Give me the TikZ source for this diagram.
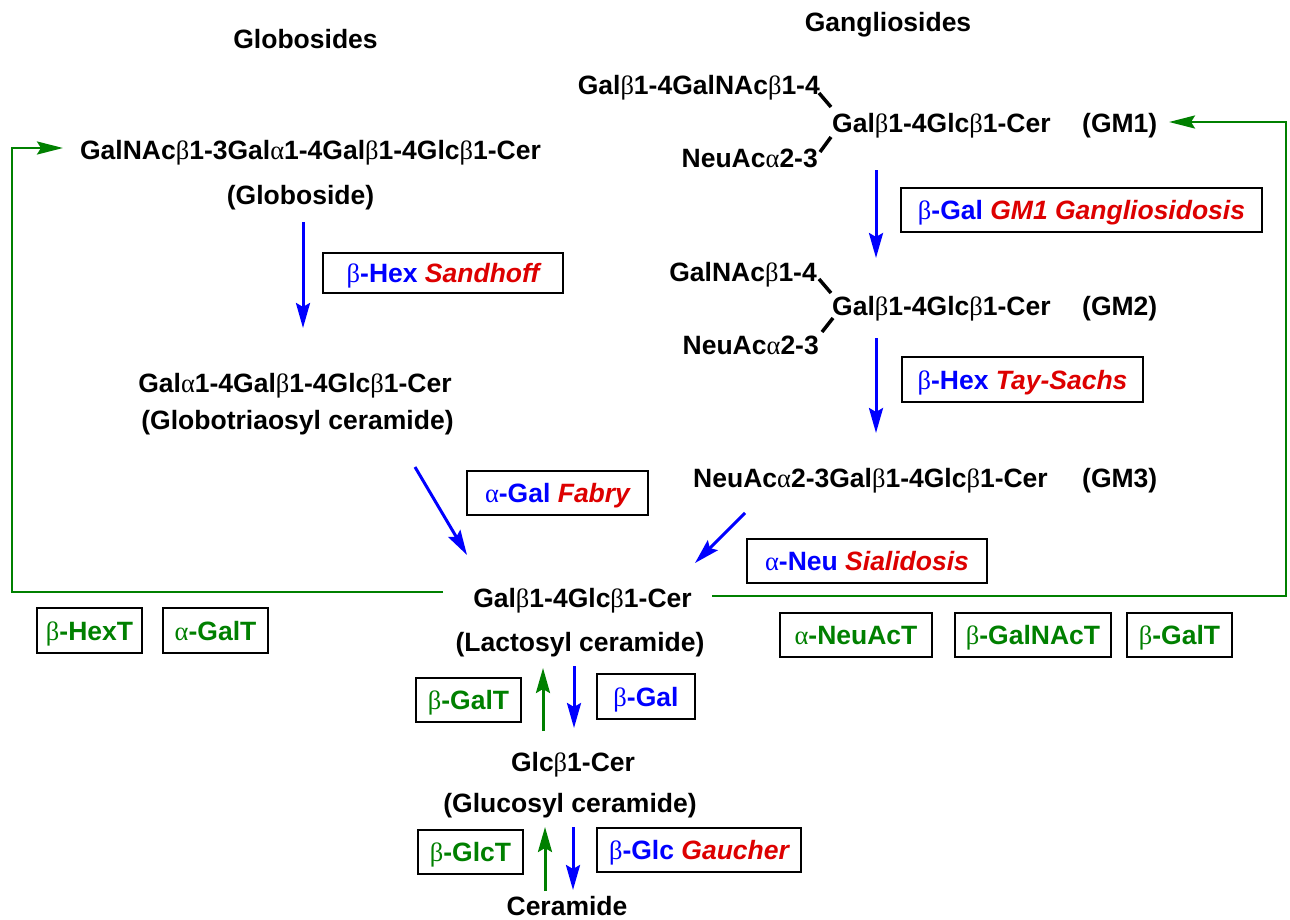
\documentclass[tikz,border=0pt]{standalone}
\usepackage{fontspec}
\setmainfont{Liberation Sans}
\newfontfamily\grkfont{Liberation Serif}
\usetikzlibrary{arrows.meta}
\definecolor{eblue}{RGB}{0,0,255}
\definecolor{ered}{RGB}{221,0,0}
\definecolor{egreen}{RGB}{0,128,0}
\newcommand\Bt{{\grkfont\mdseries β}}
\newcommand\Al{{\grkfont\mdseries α}}
\newcommand\Enz[1]{\textcolor{eblue}{#1}}
\newcommand\Dis[1]{\textcolor{ered}{\itshape #1}}
\tikzset{
  txt/.style={font=\fontsize{26.5}{30}\selectfont\bfseries, inner sep=0pt, text height=19pt, text depth=0pt},
  ebox/.style={txt, draw=black, line width=2pt},
  gtxt/.style={text=egreen},
  barrow/.style={draw=eblue, line width=3pt, -{Stealth[length=25pt,width=14pt,inset=4pt]}},
  garrow/.style={draw=egreen, line width=3pt, -{Stealth[length=25pt,width=14pt,inset=4pt]}},
  gline/.style={draw=egreen, line width=2.5pt, -{Stealth[length=26pt,width=13pt,inset=4pt]}},
  bond/.style={draw=black, line width=3.5pt},
}
\begin{document}
\begin{tikzpicture}[x=1pt,y=-1pt]
\useasboundingbox[fill=white] (0,0) rectangle (1290,919);

% titles
\node[txt] (tGlobo) at (305.5,39) {Globosides};
\node[txt] (tGang) at (888,22) {Gangliosides};

% globoside series
\node[txt] (glob) at (310.5,150) {GalNAc\Bt1-3Gal\Al1-4Gal\Bt1-4Glc\Bt1-Cer};
\node[txt] (globN) at (300.5,195) {(Globoside)};
\node[txt] (gb3) at (295,383) {Gal\Al1-4Gal\Bt1-4Glc\Bt1-Cer};
\node[txt] (gb3N) at (297.5,420) {(Globotriaosyl ceramide)};

% ganglioside series
\node[txt, anchor=east] (br1) at (820,85) {Gal\Bt1-4GalNAc\Bt1-4};
\node[txt, anchor=west] (core1) at (832,123) {Gal\Bt1-4Glc\Bt1-Cer};
\node[txt, anchor=east] (na1) at (818,158) {NeuAc\Al2-3};
\node[txt, anchor=west] (gm1) at (1082,123) {(GM1)};

\node[txt, anchor=east] (br2) at (817,272) {GalNAc\Bt1-4};
\node[txt, anchor=west] (core2) at (832,306) {Gal\Bt1-4Glc\Bt1-Cer};
\node[txt, anchor=east] (na2) at (819,345) {NeuAc\Al2-3};
\node[txt, anchor=west] (gm2) at (1082,306) {(GM2)};

\node[txt, anchor=west] (core3) at (693,478) {NeuAc\Al2-3Gal\Bt1-4Glc\Bt1-Cer};
\node[txt, anchor=west] (gm3) at (1082,478) {(GM3)};

% lower chain
\node[txt] (lac) at (582.5,598) {Gal\Bt1-4Glc\Bt1-Cer};
\node[txt] (lacN) at (580,642) {(Lactosyl ceramide)};
\node[txt] (glc) at (573,762) {Glc\Bt1-Cer};
\node[txt] (glcN) at (570,803) {(Glucosyl ceramide)};
\node[txt] (cer) at (567,906) {Ceramide};

% enzyme boxes
\node[ebox, minimum width=240pt, minimum height=40pt] (bSand) at (443,273) {\Enz{\Bt-Hex} \Dis{Sandhoff}};
\node[ebox, minimum width=361pt, minimum height=44pt] (bGM1) at (1081.5,210) {\Enz{\Bt-Gal} \Dis{GM1 Gangliosidosis}};
\node[ebox, minimum width=241pt, minimum height=45pt] (bTay) at (1022.5,379.5) {\Enz{\Bt-Hex} \Dis{Tay-Sachs}};
\node[ebox, minimum width=181pt, minimum height=44pt] (bFab) at (557.5,493) {\Enz{\Al-Gal} \Dis{Fabry}};
\node[ebox, minimum width=240pt, minimum height=44pt] (bSia) at (867,561) {\Enz{\Al-Neu} \Dis{Sialidosis}};
\node[ebox, gtxt, minimum width=105pt, minimum height=45pt] (bHexT) at (89.5,630.5) {\Bt-HexT};
\node[ebox, gtxt, minimum width=105pt, minimum height=45pt] (bGalTa) at (215.5,630.5) {\Al-GalT};
\node[ebox, gtxt, minimum width=152pt, minimum height=44pt] (bNeuT) at (856,635) {\Al-NeuAcT};
\node[ebox, gtxt, minimum width=156pt, minimum height=44pt] (bGNT) at (1033,635) {\Bt-GalNAcT};
\node[ebox, gtxt, minimum width=105pt, minimum height=44pt] (bGalTr) at (1179.5,635) {\Bt-GalT};
\node[ebox, gtxt, minimum width=105pt, minimum height=44pt] (bGalTl) at (468.5,700) {\Bt-GalT};
\node[ebox, minimum width=98pt, minimum height=45pt] (bGal) at (646,696.5) {\Enz{\Bt-Gal}};
\node[ebox, gtxt, minimum width=105pt, minimum height=44pt] (bGlcT) at (470.5,852) {\Bt-GlcT};
\node[ebox, minimum width=204pt, minimum height=44pt] (bGau) at (699,850) {\Enz{\Bt-Glc} \Dis{Gaucher}};

% bonds in branched gangliosides
\draw[bond] (819,93) -- (831,107);
\draw[bond] (831,137) -- (820,152);
\draw[bond] (819,279) -- (831,293);
\draw[bond] (833,318) -- (822,332);

% arrow end points
\coordinate (a1s) at (303,222); \coordinate (a1e) at (303,328);
\coordinate (a2s) at (415,467); \coordinate (a2e) at (467,555);
\coordinate (a3s) at (745,513); \coordinate (a3e) at (695,563);
\coordinate (a4s) at (876,170); \coordinate (a4e) at (876,258);
\coordinate (a5s) at (876,338); \coordinate (a5e) at (876,433);
\coordinate (g1s) at (543,731); \coordinate (g1e) at (543,668);
\coordinate (b1s) at (574,666); \coordinate (b1e) at (574,728);
\coordinate (g2s) at (545,891); \coordinate (g2e) at (545,827);
\coordinate (b2s) at (573,827); \coordinate (b2e) at (573,890);

\draw[barrow] (a1s) -- (a1e);
\draw[barrow] (a2s) -- (a2e);
\draw[barrow] (a3s) -- (a3e);
\draw[barrow] (a4s) -- (a4e);
\draw[barrow] (a5s) -- (a5e);
\draw[garrow] (g1s) -- (g1e);
\draw[barrow] (b1s) -- (b1e);
\draw[garrow] (g2s) -- (g2e);
\draw[barrow] (b2s) -- (b2e);

% synthesis loops
\coordinate (lL) at (443,592); \coordinate (lC1) at (12,592); \coordinate (lC2) at (12,148); \coordinate (lE) at (63,148);
\coordinate (rL) at (712,596); \coordinate (rC1) at (1286,596); \coordinate (rC2) at (1286,122); \coordinate (rE) at (1169,122);
\draw[gline] (lL) -- (lC1) -- (lC2) -- (lE);
\draw[gline] (rL) -- (rC1) -- (rC2) -- (rE);
\end{tikzpicture}
\end{document}
